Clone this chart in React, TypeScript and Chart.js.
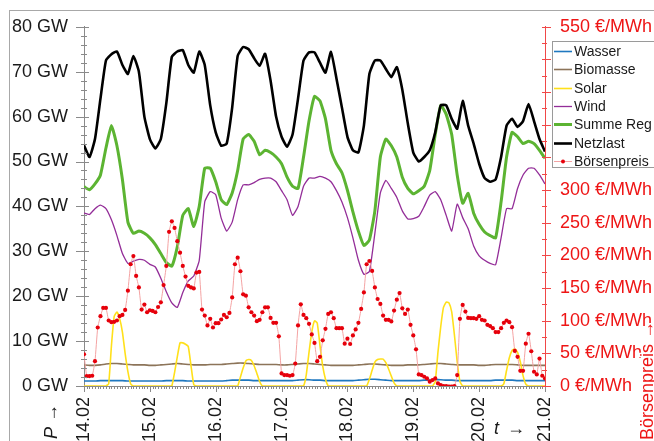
import React, { useEffect, useRef } from 'react';
import { Chart, registerables } from 'chart.js';

Chart.register(...registerables);

// ---- categories / tick labels ----
const dayLabels = ['14.02', '15.02', '16.02', '17.02', '18.02', '19.02', '20.02', '21.02'];
const legendOrder = ['Wasser', 'Biomasse', 'Solar', 'Wind', 'Summe Reg', 'Netzlast', 'Börsenpreis'];

// ---- series sampled every 2 h (h = 0, 2, ..., 168), GW ----
const netzlast = [
  53.6, 51.0, 55.0, 64.0, 72.5, 73.9, 74.5, 71.5, 69.5, 73.5, 70.0, 60.0,
  55.0, 52.9, 55.0, 63.0, 73.3, 74.5, 74.8, 71.5, 69.8, 74.5, 71.5, 62.5,
  56.5, 53.5, 54.0, 62.0, 73.5, 75.5, 75.0, 73.0, 71.3, 74.0, 68.0, 60.0,
  55.5, 53.3, 56.0, 64.0, 72.5, 74.3, 74.3, 72.0, 69.8, 74.4, 68.5, 62.0,
  55.5, 52.5, 52.0, 58.0, 69.5, 72.5, 72.5, 70.6, 68.8, 71.0, 66.0, 58.5,
  52.0, 50.0, 51.0, 52.5, 56.5, 62.5, 62.5, 59.5, 57.3, 63.5, 58.0, 54.0,
  49.5, 46.3, 45.5, 46.0, 51.0, 58.0, 59.5, 57.7, 59.0, 62.8, 59.0, 55.0,
  52.2,
];
const summeReg = [
  44.4, 43.7, 45.0, 47.0, 53.0, 58.0, 53.5, 46.0, 36.5, 34.0, 34.5, 34.0,
  33.0, 31.5, 29.5, 27.5, 26.7, 31.0, 38.0, 39.5, 35.5, 40.0, 48.5, 48.5,
  45.5, 41.5, 40.4, 43.0, 48.0, 55.0, 56.0, 54.5, 51.5, 52.5, 52.0, 51.0,
  49.5, 46.5, 44.5, 44.0, 51.0, 59.0, 64.5, 63.5, 59.5, 52.5, 49.5, 47.5,
  43.6, 38.8, 34.5, 31.3, 32.5, 39.0, 51.0, 55.0, 53.5, 51.0, 46.5, 44.0,
  42.8, 43.5, 44.5, 48.0, 56.0, 62.5, 60.5, 56.0, 47.0, 40.7, 42.9, 38.5,
  36.0, 34.3, 33.5, 33.0, 41.0, 51.0, 56.5, 55.5, 54.0, 54.5, 54.0, 52.5,
  50.7,
];
const wind = [
  38.5, 38.2, 39.5, 40.3, 39.5, 37.0, 33.5, 29.5, 27.3, 27.8, 28.2, 28.0,
  27.1, 26.5, 24.0, 21.0, 18.5, 17.5, 20.8, 23.4, 24.5, 28.0, 41.0, 43.3,
  42.6, 37.4, 34.5, 36.5, 41.5, 44.8, 44.8, 45.3, 46.0, 46.3, 46.3, 45.5,
  43.5, 41.5, 38.0, 40.0, 44.5, 46.3, 46.3, 46.7, 46.3, 45.5, 43.5, 41.0,
  37.5, 33.0, 28.0, 24.9, 25.5, 34.0, 43.0, 45.8, 44.0, 42.0, 39.0, 37.2,
  37.3, 37.8, 40.0, 42.5, 43.3, 41.5, 38.0, 34.5, 40.5, 37.5, 35.0, 31.2,
  29.0, 28.0, 27.3, 27.0, 33.0, 39.5, 39.5, 44.0, 47.0, 48.5, 48.5, 47.0,
  45.0,
];
const biomasse = [
  4.7, 4.6, 4.6, 4.7, 4.9, 5.0, 5.0, 4.9, 4.8, 4.7, 4.7, 4.7,
  4.6, 4.6, 4.7, 4.8, 4.9, 5.0, 4.9, 4.8, 4.7, 4.7, 4.7, 4.8,
  4.8, 4.8, 4.9, 5.0, 5.1, 5.1, 5.0, 4.9, 4.8, 4.8, 4.8, 4.8,
  4.7, 4.7, 4.8, 4.9, 5.0, 5.0, 4.9, 4.8, 4.7, 4.6, 4.6, 4.6,
  4.6, 4.6, 4.7, 4.8, 4.9, 4.9, 4.8, 4.7, 4.6, 4.6, 4.6, 4.7,
  4.7, 4.7, 4.8, 4.9, 5.0, 5.0, 4.9, 4.8, 4.7, 4.7, 4.7, 4.7,
  4.6, 4.6, 4.7, 4.8, 4.8, 4.8, 4.8, 4.7, 4.6, 4.6, 4.6, 4.6,
  4.6,
];
const wasser = [
  1.1, 1.1, 1.1, 1.2, 1.2, 1.2, 1.2, 1.2, 1.1, 1.1, 1.1, 1.1,
  1.1, 1.1, 1.1, 1.2, 1.2, 1.2, 1.2, 1.1, 1.1, 1.1, 1.1, 1.1,
  1.1, 1.1, 1.2, 1.3, 1.3, 1.3, 1.3, 1.2, 1.2, 1.2, 1.2, 1.2,
  1.2, 1.2, 1.2, 1.3, 1.4, 1.4, 1.3, 1.3, 1.2, 1.2, 1.2, 1.2,
  1.2, 1.2, 1.3, 1.4, 1.5, 1.5, 1.4, 1.3, 1.2, 1.2, 1.2, 1.2,
  1.2, 1.2, 1.3, 1.3, 1.4, 1.4, 1.3, 1.3, 1.2, 1.2, 1.2, 1.2,
  1.2, 1.2, 1.2, 1.3, 1.3, 1.3, 1.3, 1.2, 1.2, 1.2, 1.2, 1.2,
  1.2,
];

// ---- hourly series (h = 0 .. 168) ----
const solar = [
  0, 0, 0, 0, 0, 0, 0, 0, 0, 0.5, 9, 15.5, 16.5, 15, 12, 7.2, 3.2, 0.5, 0, 0, 0, 0, 0, 0,
  0, 0, 0, 0, 0, 0, 0, 0, 0, 3, 6.5, 9.6, 9.6, 9.3, 8.8, 4.5, 0.3, 0, 0, 0, 0, 0, 0, 0,
  0, 0, 0, 0, 0, 0, 0, 0, 0, 2, 4, 5.6, 5.9, 5.7, 4.5, 2.8, 1, 0, 0, 0, 0, 0, 0, 0,
  0, 0, 0, 0, 0, 0, 0, 0, 0, 2.5, 7.5, 12, 14.5, 14, 9, 4.4, 1.5, 0, 0, 0, 0, 0, 0, 0,
  0, 0, 0, 0, 0, 0, 0, 0, 1.5, 3.5, 5.3, 5.9, 6, 6, 5.2, 3.8, 2.2, 0.7, 0, 0, 0, 0, 0, 0,
  0, 0, 0, 0, 0, 0, 0, 0, 1, 7.6, 13.2, 17.5, 18.7, 18.5, 16.5, 11.3, 5.4, 1, 0, 0, 0, 0, 0, 0,
  0, 0, 0, 0, 0, 0, 0, 0, 0, 0.5, 3.5, 6.3, 7.9, 8.3, 7.5, 5.4, 2.3, 0.4, 0, 0, 0, 0, 0, 0,
  0,
];
// €/MWh
const boersenpreis = [
  48.6, 15.2, 15.2, 15.7, 38.0, 89.6, 106.9, 119.5, 119.5, 100.3, 97.7, 98.2,
  100.3, 106.9, 108.9, 116.5, 145.9, 186.4, 199.0, 168.6, 150.9, 117.0, 124.6, 112.9,
  116.0, 115.0, 112.9, 121.0, 128.1, 154.5, 183.8, 236.0, 252.2, 242.1, 221.8, 204.1,
  183.8, 167.6, 153.4, 150.9, 149.4, 173.7, 174.7, 117.0, 107.9, 92.7, 102.8, 89.6,
  96.2, 96.2, 101.8, 108.9, 105.3, 111.9, 135.7, 186.4, 196.5, 175.7, 140.3, 138.3,
  120.5, 112.9, 107.9, 99.3, 101.3, 112.9, 120.5, 120.5, 104.3, 96.7, 96.7, 76.0,
  19.2, 16.7, 16.7, 15.7, 16.7, 34.4, 92.7, 125.1, 108.9, 103.8, 95.2, 79.0,
  66.0, 38.0, 44.6, 69.9, 87.6, 110.4, 112.9, 103.8, 88.6, 88.6, 88.6, 64.8,
  72.4, 64.3, 77.5, 86.6, 96.7, 118.0, 143.3, 186.4, 191.4, 176.2, 150.9, 133.2,
  125.6, 107.9, 101.3, 101.3, 98.8, 115.5, 132.2, 142.3, 119.0, 110.4, 117.0, 93.7,
  77.5, 56.2, 17.7, 16.7, 14.2, 11.6, 6.6, 9.1, 11.6, 4.0, 1.5, 0.0,
  0.0, -1.0, -1.0, 0.0, 16.7, 102.8, 124.1, 113.9, 104.3, 103.8, 103.8, 102.8,
  106.9, 101.3, 100.3, 93.7, 91.7, 88.6, 82.5, 82.5, 88.6, 96.7, 100.3, 97.7,
  90.1, 53.7, 44.6, 23.3, 23.3, 64.8, 80.0, 53.2, 21.8, 17.7, 42.0, 15.7,
  11.6,
];

const FONT = "'Liberation Sans', Arial, 'DejaVu Sans', sans-serif";
const RED = '#ee1515';

const toXY = (arr: number[], step: number) => arr.map((v, i) => ({ x: i * step, y: v }));

const decor = {
  id: 'decor',
  afterDraw(chart: any) {
    const { ctx, chartArea: ca, scales } = chart;
    const xs = scales.x, ys = scales.y, ys2 = scales.y2;
    ctx.save();
    ctx.lineWidth = 1;

    // outer frame
    ctx.strokeStyle = '#a8a8a8';
    ctx.strokeRect(9.5, 10.5, 800, 600);

    // left + bottom ticks
    ctx.strokeStyle = '#8a8a8a';
    ctx.beginPath();
    for (let v = 0; v <= 80; v += 2) {
      const py = Math.round(ys.getPixelForValue(v)) + 0.5;
      const major = v % 10 === 0;
      ctx.moveTo(ca.left - (major ? 8 : 3), py);
      ctx.lineTo(ca.left + (major ? 5 : 3), py);
    }
    for (let h = 0; h <= 168; h++) {
      const px = Math.round(xs.getPixelForValue(h)) + 0.5;
      ctx.moveTo(px, ca.bottom);
      ctx.lineTo(px, ca.bottom + (h % 24 === 0 ? 6 : 3));
    }
    ctx.stroke();

    // right ticks
    ctx.strokeStyle = '#f04848';
    ctx.beginPath();
    for (let v = 0; v <= 550; v += 25) {
      const py = Math.round(ys2.getPixelForValue(v)) + 0.5;
      const major = v % 50 === 0;
      ctx.moveTo(ca.right - 3, py);
      ctx.lineTo(ca.right + (major ? 6 : 2), py);
    }
    ctx.stroke();

    // axis titles
    ctx.fillStyle = '#1a1a1a';
    ctx.textBaseline = 'alphabetic';
    ctx.textAlign = 'left';
    ctx.save();
    ctx.translate(57, 439);
    ctx.rotate(-Math.PI / 2);
    ctx.font = `italic 18px ${FONT}`;
    ctx.fillText('P', 0, 0);
    const pw = ctx.measureText('P').width;
    ctx.font = `18px ${FONT}`;
    ctx.fillText(' \u2192', pw, 0);
    ctx.restore();

    ctx.font = `italic 18px ${FONT}`;
    ctx.fillText('t', 494, 434);
    ctx.font = `18px ${FONT}`;
    ctx.fillText('\u2192', 507, 434);

    ctx.save();
    ctx.translate(653, 440);
    ctx.rotate(-Math.PI / 2);
    ctx.font = `18px ${FONT}`;
    ctx.strokeStyle = '#ffffff';
    ctx.lineWidth = 3;
    ctx.strokeText('Börsenpreis \u2192', 0, 0);
    ctx.fillStyle = RED;
    ctx.fillText('Börsenpreis \u2192', 0, 0);
    ctx.restore();

    // legend box
    const lx = 552, ly = 41, lw = 120, lh = 126;
    ctx.fillStyle = '#ffffff';
    ctx.fillRect(lx, ly, lw, lh);
    ctx.strokeStyle = '#9a9a9a';
    ctx.lineWidth = 1;
    ctx.strokeRect(lx + 0.5, ly + 0.5, lw, lh);
    ctx.font = `14px ${FONT}`;
    ctx.textBaseline = 'middle';
    legendOrder.forEach((label, i) => {
      const ds = chart.data.datasets.find((d: any) => d.label === label);
      const cy = Math.round(51 + i * 18.3) + 0.5;
      ctx.strokeStyle = ds.borderColor;
      ctx.lineWidth = ds.borderWidth;
      ctx.beginPath();
      ctx.moveTo(554, cy);
      ctx.lineTo(572, cy);
      ctx.stroke();
      if (ds.pointRadius) {
        ctx.fillStyle = ds.pointBackgroundColor;
        ctx.beginPath();
        ctx.arc(563, cy, 2, 0, Math.PI * 2);
        ctx.fill();
      }
      ctx.fillStyle = '#1a1a1a';
      ctx.fillText(label, 574, cy + 0.5);
    });
    ctx.restore();
  },
};

export default function App() {
  const ref = useRef<HTMLCanvasElement>(null);
  useEffect(() => {
    Chart.defaults.font.family = FONT;
    const chart = new Chart(ref.current as HTMLCanvasElement, {
      type: 'line',
      data: {
        datasets: [
          {
            label: 'Börsenpreis', data: toXY(boersenpreis, 1), yAxisID: 'y2',
            borderColor: '#f4a3a3', borderWidth: 1, pointRadius: 2.1,
            pointBackgroundColor: '#e6000b', pointBorderWidth: 0,
          },
          { label: 'Netzlast', data: toXY(netzlast, 2), yAxisID: 'y', borderColor: '#000000', borderWidth: 2.6, pointRadius: 0 },
          { label: 'Summe Reg', data: toXY(summeReg, 2), yAxisID: 'y', borderColor: '#5cb432', borderWidth: 3, pointRadius: 0 },
          { label: 'Wind', data: toXY(wind, 2), yAxisID: 'y', borderColor: '#932d98', borderWidth: 1.3, pointRadius: 0 },
          { label: 'Solar', data: toXY(solar, 1), yAxisID: 'y', borderColor: '#ffe01a', borderWidth: 1.6, pointRadius: 0 },
          { label: 'Biomasse', data: toXY(biomasse, 2), yAxisID: 'y', borderColor: '#8c7459', borderWidth: 1.6, pointRadius: 0 },
          { label: 'Wasser', data: toXY(wasser, 2), yAxisID: 'y', borderColor: '#1f78c0', borderWidth: 1.6, pointRadius: 0 },
        ],
      },
      options: {
        responsive: false,
        animation: false,
        devicePixelRatio: 1,
        layout: { padding: { top: 24, left: 0, right: 0, bottom: 0 } },
        plugins: { legend: { display: false }, tooltip: { enabled: false } },
        elements: { line: { tension: 0.15 } },
        scales: {
          x: {
            type: 'linear', min: 0, max: 168,
            afterFit: (s: any) => { s.height = 55; },
            grid: { display: false, drawTicks: false },
            border: { display: true, color: '#8a8a8a', width: 1 },
            ticks: {
              stepSize: 24, autoSkip: false, maxRotation: 90, minRotation: 90,
              padding: 11, color: '#1a1a1a', font: { size: 18, family: FONT },
              callback: (v: any) => dayLabels[Math.round(Number(v) / 24)],
            },
          },
          y: {
            position: 'left', min: 0, max: 80,
            afterFit: (s: any) => { s.width = 84; },
            grid: { display: false, drawTicks: false },
            border: { display: true, color: '#8a8a8a', width: 1 },
            ticks: {
              stepSize: 10, padding: 16, color: '#1a1a1a', font: { size: 18, family: FONT },
              callback: (v: any) => `${v} GW`,
            },
          },
          y2: {
            position: 'right', min: 0, max: 550,
            afterFit: (s: any) => { s.width = 109; },
            grid: { display: false, drawTicks: false },
            border: { display: true, color: '#f04848', width: 1 },
            ticks: {
              stepSize: 50, padding: 15, color: RED, font: { size: 18, family: FONT },
              callback: (v: any) => `${v} €/MWh`,
            },
          },
        },
      },
      plugins: [decor],
    } as any);
    return () => chart.destroy();
  }, []);
  return (
    <div style={{ position: 'fixed', left: 0, top: 0, width: 654, height: 441, background: '#ffffff' }}>
      <canvas ref={ref} width={654} height={441} style={{ display: 'block', width: 654, height: 441 }} />
    </div>
  );
}
